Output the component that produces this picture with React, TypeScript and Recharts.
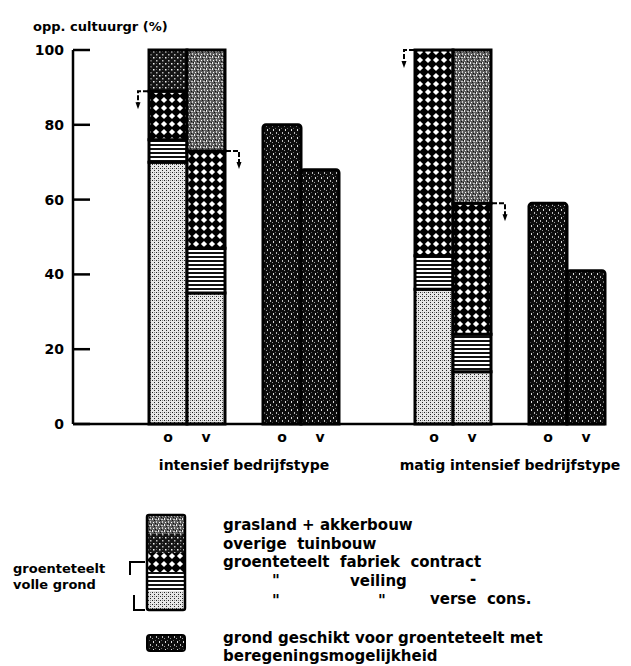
import { ComposedChart, Bar, XAxis, YAxis, LabelList, Label } from 'recharts';

// ─── data ───────────────────────────────────────────────────────────────
const barLabels = ['o', 'v', 'o', 'v', 'o', 'v', 'o', 'v'];
const groupLabels = ['intensief bedrijfstype', 'matig intensief bedrijfstype'];
const verseCons = [70, 35, null, null, 36, 14, null, null];
const veiling = [6, 12, null, null, 9, 10, null, null];
const fabriekContract = [13, 26, null, null, 55, 35, null, null];
const overigeTuinbouw = [11, null, null, null, null, null, null, null];
const graslandAkkerbouw = [null, 27, null, null, null, 41, null, null];
const grondGeschikt = [null, null, 80, 68, null, null, 59, 41];
// side of the "groenteteelt volle grond" marker on each stacked bar
const bracketSide = ['left', 'right', null, null, 'left', 'right', null, null];
const yTicks = [0, 20, 40, 60, 80, 100];

// bar slots on the category axis, with empty slots between the groups
const slots: (number | string | null)[] = [null, null, 0, 1, 'g0', 2, 3, null, null, 4, 5, 'g1', 6, 7];

const rows = slots.map((s) => {
    if (typeof s === 'number') {
        return {
            label: barLabels[s],
            group: '',
            verse: verseCons[s],
            veiling: veiling[s],
            fabriek: fabriekContract[s],
            overige: overigeTuinbouw[s],
            grasland: graslandAkkerbouw[s],
            grond: grondGeschikt[s],
            bracket: bracketSide[s],
        };
    }
    return { label: '', group: s === 'g0' ? groupLabels[0] : s === 'g1' ? groupLabels[1] : '' };
});

const FONT = '"DejaVu Sans", sans-serif';

// ─── pieces ─────────────────────────────────────────────────────────────
const YTick = ({ x, y, payload }: any) => (
    <g>
        <line x1={x} x2={x + 17} y1={y} y2={y} stroke="#000" strokeWidth={2.5} />
        <text x={x - 9} y={y} dy="0.36em" textAnchor="end" fontSize={14} fontWeight={700} fontFamily={FONT} fill="#000">
            {payload.value}
        </text>
    </g>
);

const YTitle = ({ viewBox }: any) => (
    <text x={viewBox.x + 25} y={viewBox.y - 19} fontSize={13} fontWeight={700} fontFamily={FONT} fill="#000">
        opp. cultuurgr (%)
    </text>
);

const Bracket = (props: any) => {
    const { x, y, width, value } = props;
    if (!value) return null;
    const edge = value === 'left' ? x - 1 : x + width + 1;
    const out = value === 'left' ? edge - 10 : edge + 13;
    return (
        <g>
            <path d={`M${edge},${y} H${out} V${y + 15}`} fill="none" stroke="#000" strokeWidth={2} strokeDasharray="5 2" />
            <path d={`M${out - 2.5},${y + 11} L${out},${y + 18} L${out + 2.5},${y + 11} Z`} fill="#000" />
        </g>
    );
};

const Patterns = () => (
    <defs>
        <pattern id="pVerse" width="4" height="4" patternUnits="userSpaceOnUse">
            <rect width="4" height="4" fill="#e6e6e6" />
            <rect x="0" y="0" width="1" height="1" fill="#222" />
            <rect x="2" y="2" width="1" height="1" fill="#222" />
            <rect x="2" y="0" width="1" height="1" fill="#888" />
        </pattern>
        <pattern id="pVeiling" width="4" height="4" patternUnits="userSpaceOnUse">
            <rect width="4" height="4" fill="#fff" />
            <rect x="0" y="0" width="4" height="2" fill="#111" />
        </pattern>
        <pattern id="pFabriek" width="8" height="8" patternUnits="userSpaceOnUse">
            <rect width="8" height="8" fill="#000" />
            <polygon points="4,0.9 7.1,4 4,7.1 0.9,4" fill="#fff" />
        </pattern>
        <pattern id="pOverige" width="6" height="6" patternUnits="userSpaceOnUse">
            <rect width="6" height="6" fill="#151515" />
            <rect x="1" y="1" width="1.5" height="1.5" fill="#eee" />
            <rect x="4" y="4" width="1.5" height="1.5" fill="#bbb" />
            <rect x="4" y="1" width="1" height="1" fill="#666" />
        </pattern>
        <pattern id="pGras" width="6" height="6" patternUnits="userSpaceOnUse">
            <rect width="6" height="6" fill="#5e5e5e" />
            <rect x="0" y="0" width="1" height="2" fill="#eee" />
            <rect x="3" y="1" width="2" height="1" fill="#ccc" />
            <rect x="1" y="4" width="1" height="1" fill="#fff" />
            <rect x="4" y="3" width="1" height="2" fill="#ccc" />
            <rect x="2" y="2" width="1" height="1" fill="#111" />
            <rect x="5" y="0" width="1" height="1" fill="#111" />
            <rect x="3" y="5" width="1" height="1" fill="#111" />
        </pattern>
        <pattern id="pGrond" width="6" height="8" patternUnits="userSpaceOnUse">
            <rect width="6" height="8" fill="#0d0d0d" />
            <rect x="1" y="1" width="1" height="2" fill="#ddd" />
            <rect x="4" y="4" width="1" height="2" fill="#bbb" />
            <rect x="3" y="0" width="1" height="1" fill="#666" />
            <rect x="0" y="6" width="1" height="1" fill="#999" />
        </pattern>
    </defs>
);

const legendStack = [
    { fill: 'url(#pGras)', name: 'grasland + akkerbouw' },
    { fill: 'url(#pOverige)', name: 'overige  tuinbouw' },
    { fill: 'url(#pFabriek)', name: 'groenteteelt  fabriek  contract' },
    { fill: 'url(#pVeiling)', name: 'veiling' },
    { fill: 'url(#pVerse)', name: 'verse  cons.' },
];

const LegendBlock = () => {
    const t = { fontSize: 15, fontWeight: 700, fontFamily: FONT, fill: '#000' } as const;
    const rowY = [42, 60.5, 79, 97.5, 116];
    return (
        <svg width={620} height={176} style={{ display: 'block' }}>
            {legendStack.map((item, i) => (
                <rect key={i} x={139} y={27 + i * 19} width={38} height={19} fill={item.fill} />
            ))}
            <rect x={139} y={27} width={38} height={95} fill="none" stroke="#000" strokeWidth={2.5} rx={2} />
            <text x={215} y={rowY[0]} {...t}>{legendStack[0].name}</text>
            <text x={215} y={rowY[1]} {...t} style={{ whiteSpace: 'pre' }}>{legendStack[1].name}</text>
            <text x={215} y={rowY[2]} {...t} style={{ whiteSpace: 'pre' }}>{legendStack[2].name}</text>
            <text x={264} y={rowY[3]} {...t}>"</text>
            <text x={342} y={rowY[3]} {...t}>{legendStack[3].name}</text>
            <text x={462} y={rowY[3] - 2} {...t}>-</text>
            <text x={264} y={rowY[4] + 2} {...t}>"</text>
            <text x={370} y={rowY[4] + 2} {...t}>"</text>
            <text x={422} y={rowY[4]} {...t} style={{ whiteSpace: 'pre' }}>{legendStack[4].name}</text>

            <text x={5} y={85} {...t} fontSize={13}>groenteteelt</text>
            <text x={5} y={101} {...t} fontSize={13}>volle grond</text>
            <path d="M137,74 H122 V87" fill="none" stroke="#000" strokeWidth={2} />
            <path d="M126,107 V122 H137" fill="none" stroke="#000" strokeWidth={2} />

            <rect x={139} y={147} width={38} height={16} fill="url(#pGrond)" stroke="#000" strokeWidth={2} rx={3} />
            <text x={215} y={155} {...t}>grond geschikt voor groenteteelt met</text>
            <text x={215} y={173} {...t}>beregeningsmogelijkheid</text>
        </svg>
    );
};

export default function App() {
    const stroke = { stroke: '#000', strokeWidth: 3 };
    return (
        <div style={{ width: 620 }}>
            <ComposedChart
                width={620}
                height={480}
                data={rows}
                margin={{ top: 42, right: 23, left: 0, bottom: 6 }}
                barCategoryGap={0}
                barGap={0}
            >
                <Patterns />
                <XAxis
                    dataKey="label"
                    interval={0}
                    tickLine={false}
                    axisLine={{ stroke: '#000', strokeWidth: 2.5 }}
                    tick={{ fill: '#000', fontSize: 14, fontWeight: 700, fontFamily: FONT }}
                    height={28}
                />
                <XAxis
                    xAxisId="grp"
                    dataKey="group"
                    interval={0}
                    tickLine={false}
                    axisLine={false}
                    tick={{ fill: '#000', fontSize: 14, fontWeight: 700, fontFamily: FONT }}
                    height={30}
                />
                <YAxis
                    domain={[0, 100]}
                    ticks={yTicks}
                    width={65}
                    tickSize={0}
                    tickMargin={0}
                    tickLine={false}
                    axisLine={{ stroke: '#000', strokeWidth: 2.5 }}
                    tick={<YTick />}
                >
                    <Label content={<YTitle />} />
                </YAxis>
                <Bar dataKey="verse" stackId="s" fill="url(#pVerse)" {...stroke} isAnimationActive={false} />
                <Bar dataKey="veiling" stackId="s" fill="url(#pVeiling)" {...stroke} isAnimationActive={false} />
                <Bar dataKey="fabriek" stackId="s" fill="url(#pFabriek)" {...stroke} isAnimationActive={false}>
                    <LabelList dataKey="bracket" content={<Bracket />} />
                </Bar>
                <Bar dataKey="overige" stackId="s" fill="url(#pOverige)" {...stroke} isAnimationActive={false} />
                <Bar dataKey="grasland" stackId="s" fill="url(#pGras)" {...stroke} isAnimationActive={false} />
                <Bar dataKey="grond" stackId="s" fill="url(#pGrond)" {...stroke} radius={[3, 3, 0, 0]} isAnimationActive={false} />
            </ComposedChart>
            <LegendBlock />
        </div>
    );
}
